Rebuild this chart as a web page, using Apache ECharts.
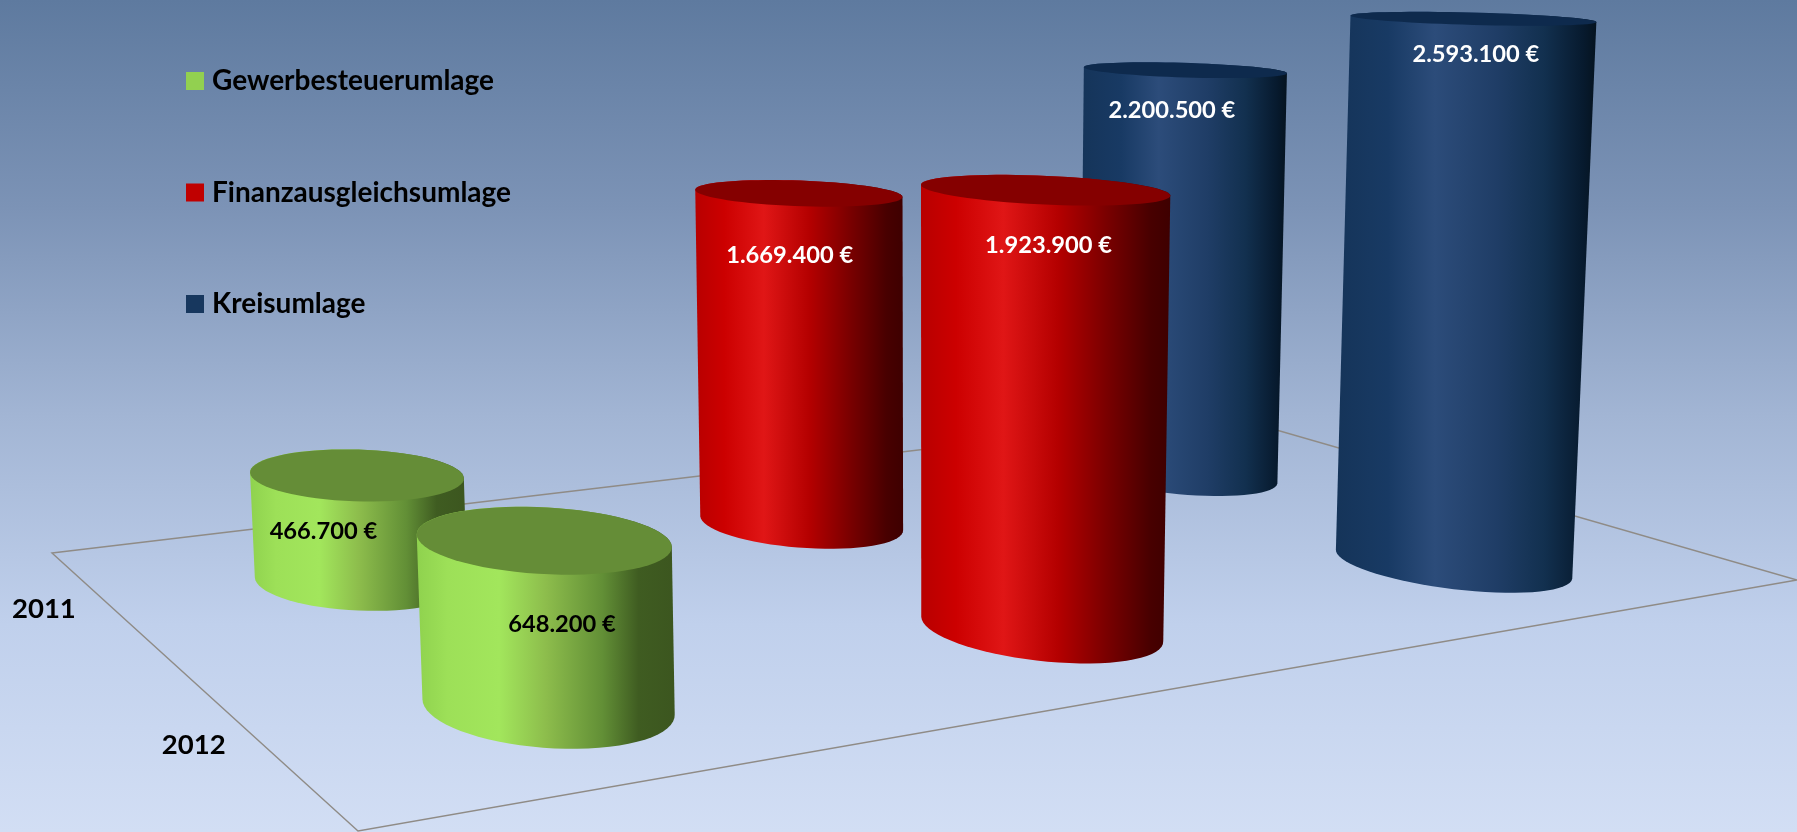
<!DOCTYPE html>
<html><head><meta charset="utf-8">
<style>html,body{margin:0;padding:0;width:100%;height:100%;overflow:hidden}#c{width:1797px;height:832px}</style>
<script src="https://cdn.jsdelivr.net/npm/echarts@6/dist/echarts.min.js"></script>
</head><body><div id="c"></div>
<script>
// ---- data ----
const years = ['2011', '2012'];
const seriesNames = ['Gewerbesteuerumlage', 'Finanzausgleichsumlage', 'Kreisumlage'];
const gewerbesteuerumlage = [466700, 648200];
const finanzausgleichsumlage = [1669400, 1923900];
const kreisumlage = [2200500, 2593100];
const seriesValues = [gewerbesteuerumlage, finanzausgleichsumlage, kreisumlage];

// ---- camera / layout ----
const FLOOR = [[52,553],[1221,414],[1797,580],[358,831]]; // screen corners of the floor plane
const VERT = {px:-0.0586, py:-0.97, pw:-6.3e-5};          // vertical axis column of the projection
const ZBASE = 10;                                         // cylinder base thickness, px
const PLAN = {a:0.0645, b:0.0146, c:0.13485};             // cylinder footprint on the floor
const SHIFT = {u:-0.003, v:0.02};
const LABEL_OFF = [[[-33,57],[19,85]],[[-8,63],[5,56]],[[-12,40],[5,36]]]; // label offset from top centre
const YEAR_DX = -67, YEAR_DY = 3;

const LEGEND_COLORS = ['#92d050','#c00000','#17375e'];
const TOP_COLORS = ['#658d37','#850000','#0e2a4d'];
const LABEL_COLORS = ['#000000','#ffffff','#ffffff'];
const BODY_STOPS = [
 [[0,'#8fd24e'],[.12,'#9de058'],[.32,'#a2e65c'],[.5,'#8dbd4c'],[.72,'#628f36'],[.86,'#3f5c21'],[1,'#3c561f']],
 [[0,'#b80000'],[.14,'#cc0000'],[.33,'#e01616'],[.55,'#b40000'],[.75,'#780000'],[.92,'#480000'],[1,'#3e0000']],
 [[0,'#153459'],[.2,'#183a64'],[.38,'#2c4c7a'],[.62,'#1f3d66'],[.8,'#12304f'],[.95,'#071a2e'],[1,'#05131f']]
];
const FONT = 'Lato, Carlito, "Open Sans", sans-serif';

// homography from the unit square to FLOOR
function makeH(q){
  const [A,B,C,D]=q;
  const dx1=B[0]-C[0],dx2=D[0]-C[0],sx=A[0]-B[0]+C[0]-D[0];
  const dy1=B[1]-C[1],dy2=D[1]-C[1],sy=A[1]-B[1]+C[1]-D[1];
  const det=dx1*dy2-dx2*dy1;
  const g=(sx*dy2-dx2*sy)/det,h=(dx1*sy-sx*dy1)/det;
  return {a:B[0]-A[0]+g*B[0],b:D[0]-A[0]+h*D[0],c:A[0],
          d:B[1]-A[1]+g*B[1],e:D[1]-A[1]+h*D[1],f:A[1],g,h};
}
const H=makeH(FLOOR);
function project(u,v,z){
  const w=H.g*u+H.h*v+1+VERT.pw*z;
  return [(H.a*u+H.b*v+H.c+VERT.px*z)/w,(H.d*u+H.e*v+H.f+VERT.py*z)/w];
}
function hull(pts){
  const p=pts.slice().sort((a,b)=>a[0]-b[0]||a[1]-b[1]);
  const cross=(o,a,b)=>(a[0]-o[0])*(b[1]-o[1])-(a[1]-o[1])*(b[0]-o[0]);
  const lo=[],up=[];
  for(const q of p){while(lo.length>1&&cross(lo[lo.length-2],lo[lo.length-1],q)<=0)lo.pop();lo.push(q);}
  for(const q of p.slice().reverse()){while(up.length>1&&cross(up[up.length-2],up[up.length-1],q)<=0)up.pop();up.push(q);}
  return lo.slice(0,-1).concat(up.slice(0,-1));
}
function ring(u0,v0,z){
  const out=[];
  for(let i=0;i<72;i++){
    const t=i/72*2*Math.PI;
    out.push(project(u0+PLAN.a*Math.cos(t),v0+PLAN.b*Math.cos(t)+PLAN.c*Math.sin(t),z));
  }
  return out;
}
const fmt=v=>String(v).replace(/\B(?=(\d{3})+$)/g,'.')+' €';

function cylinderRenderer(s){
  return function(params,api){
    const yr=api.value(0),val=api.value(1);
    const z=api.coord([yr,0])[1]-api.coord([yr,val])[1]+ZBASE;
    const u0=(s+.5)/seriesNames.length+SHIFT.u, v0=(yr+.5)/years.length+SHIFT.v;
    const bottom=ring(u0,v0,0),top=ring(u0,v0,z);
    const c=project(u0,v0,z);
    const off=LABEL_OFF[s][yr];
    const base=(yr+1)*10;
    return {type:'group',children:[
      {type:'polygon',z2:base,shape:{points:hull(bottom.concat(top))},
       style:{fill:new echarts.graphic.LinearGradient(0,0,1,0,BODY_STOPS[s].map(a=>({offset:a[0],color:a[1]})))}},
      {type:'polygon',z2:base+1,shape:{points:top},style:{fill:TOP_COLORS[s]}},
      {type:'text',z2:base+2,style:{text:fmt(val),x:c[0]+off[0],y:c[1]+off[1],align:'center',verticalAlign:'middle',
        fill:LABEL_COLORS[s],font:'bold 23.7px '+FONT}}
    ]};
  };
}
function floorRenderer(params,api){
  const yr=api.value(0);
  const kids=[];
  if(yr===0){
    kids.push({type:'polygon',z2:1,shape:{points:FLOOR},style:{fill:'none',stroke:'#8f8b86',lineWidth:1.4}});
  }
  const p=project(0,(yr+.5)/years.length,0);
  kids.push({type:'text',z2:2,style:{text:years[yr],x:p[0]+YEAR_DX,y:p[1]+YEAR_DY,align:'center',verticalAlign:'middle',
    fill:'#000',font:'bold 27.5px '+FONT}});
  return {type:'group',children:kids};
}

const series=seriesNames.map((name,s)=>({
  name,type:'custom',renderItem:cylinderRenderer(s),
  itemStyle:{color:LEGEND_COLORS[s]},
  data:years.map((y,i)=>[i,seriesValues[s][i]])
}));
series.push({name:'Floor',type:'custom',renderItem:floorRenderer,silent:true,data:years.map((y,i)=>[i,0])});

const chart=echarts.init(document.getElementById('c'),null,{renderer:'canvas'});
chart.setOption({
  animation:false,
  backgroundColor:new echarts.graphic.LinearGradient(0,0,0,1,[
    {offset:0,color:'#5e7a9f'},{offset:.25,color:'#7c93b6'},{offset:.5,color:'#a2b5d4'},{offset:.75,color:'#c0d0ec'},{offset:1,color:'#d2def4'}]),
  grid:{left:0,right:0,top:100,height:627},
  xAxis:{type:'category',data:years,show:false},
  yAxis:{type:'value',min:0,max:3000000,show:false},
  legend:{data:seriesNames,orient:'vertical',left:181,top:61,itemWidth:18,itemHeight:18,itemGap:81.5,
    icon:'rect',textStyle:{color:'#000',fontFamily:FONT,fontWeight:'bold',fontSize:28,lineHeight:30,padding:[0,0,0,3]},selectedMode:false},
  series
});
</script></body></html>
